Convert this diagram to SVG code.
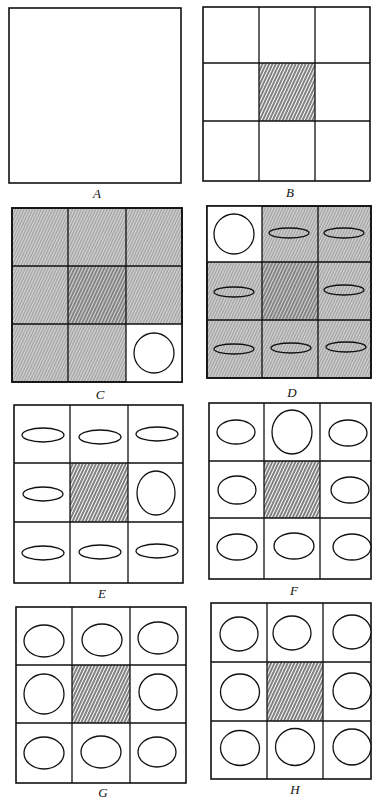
<svg xmlns="http://www.w3.org/2000/svg" width="372" height="800" viewBox="0 0 372 800">
<defs>
<pattern id="hatch" width="3" height="3" patternUnits="userSpaceOnUse" patternTransform="rotate(25)">
<rect width="3" height="3" fill="#fff"/>
<line x1="1" y1="0" x2="1" y2="3" stroke="#222" stroke-width="1.15"/>
</pattern>
<pattern id="grey" width="2.6" height="2.6" patternUnits="userSpaceOnUse" patternTransform="rotate(25)">
<rect width="2.6" height="2.6" fill="#d4d4d4"/>
<line x1="1" y1="0" x2="1" y2="2.6" stroke="#8a8a8a" stroke-width="0.9"/>
</pattern>
<pattern id="dark" width="3" height="3" patternUnits="userSpaceOnUse" patternTransform="rotate(25)">
<rect width="3" height="3" fill="#d6d6d6"/>
<line x1="1" y1="0" x2="1" y2="3" stroke="#333" stroke-width="1"/>
</pattern>
</defs>
<style>
.frame{fill:#fff;stroke:#111;stroke-width:1.6}
.grid{stroke:#111;stroke-width:1.3;fill:none}
.sh{fill:#fff;stroke:#111;stroke-width:1.3}
.lbl{font-family:"Liberation Serif",serif;font-style:italic;font-size:13px;fill:#111;text-anchor:middle}
</style>
<rect width="372" height="800" fill="#fff"/>

<g id="panelA">
<rect class="frame" x="9" y="8" width="172" height="175"/>
<text class="lbl" x="97" y="198">A</text>
</g>

<g id="panelB">
<rect class="frame" x="203" y="7" width="167" height="174"/>
<rect x="259" y="63" width="56" height="58" fill="url(#hatch)"/>
<path class="grid" d="M259 7V181M315 7V181M203 63H370M203 121H370"/>
<text class="lbl" x="290" y="197">B</text>
</g>

<g id="panelC">
<rect class="frame" x="12" y="208" width="170" height="174" style="fill:url(#grey)"/>
<rect x="68" y="266" width="58" height="58" fill="url(#dark)"/>
<rect x="126" y="324" width="56" height="58" fill="#fff"/>
<path class="grid" d="M68 208V382M126 208V382M12 266H182M12 324H182"/>
<rect class="grid" x="12" y="208" width="170" height="174" style="stroke-width:1.6"/>
<circle class="sh" cx="154" cy="353" r="20"/>
<text class="lbl" x="100" y="399">C</text>
</g>

<g id="panelD">
<rect class="frame" x="207" y="206" width="164" height="172" style="fill:url(#grey)"/>
<rect x="262" y="262" width="56" height="58" fill="url(#dark)"/>
<rect x="207" y="206" width="55" height="56" fill="#fff"/>
<path class="grid" d="M262 206V378M318 206V378M207 262H371M207 320H371"/>
<rect class="grid" x="207" y="206" width="164" height="172" style="stroke-width:1.6"/>
<circle class="sh" cx="234" cy="234" r="20"/>
<ellipse class="sh" style="fill:none" cx="289" cy="233" rx="20" ry="5"/>
<ellipse class="sh" style="fill:none" cx="344" cy="233" rx="20" ry="5"/>
<ellipse class="sh" style="fill:none" cx="234" cy="292" rx="20" ry="5"/>
<ellipse class="sh" style="fill:none" cx="344" cy="290" rx="20" ry="5"/>
<ellipse class="sh" style="fill:none" cx="234" cy="349" rx="20" ry="5"/>
<ellipse class="sh" style="fill:none" cx="291" cy="348" rx="20" ry="5"/>
<ellipse class="sh" style="fill:none" cx="346" cy="347" rx="20" ry="5"/>
<text class="lbl" x="292" y="397">D</text>
</g>

<g id="panelE">
<rect class="frame" x="14" y="405" width="169" height="178"/>
<rect x="70" y="463" width="58" height="59" fill="url(#hatch)"/>
<path class="grid" d="M70 405V583M128 405V583M14 463H183M14 522H183"/>
<ellipse class="sh" cx="43" cy="435" rx="21" ry="7"/>
<ellipse class="sh" cx="100" cy="437" rx="21" ry="7"/>
<ellipse class="sh" cx="157" cy="434" rx="21" ry="7"/>
<ellipse class="sh" cx="43" cy="494" rx="20" ry="7"/>
<ellipse class="sh" cx="156" cy="493" rx="19" ry="22"/>
<ellipse class="sh" cx="43" cy="553" rx="21" ry="7"/>
<ellipse class="sh" cx="100" cy="552" rx="21" ry="7"/>
<ellipse class="sh" cx="157" cy="551" rx="21" ry="7"/>
<text class="lbl" x="102" y="598">E</text>
</g>

<g id="panelF">
<rect class="frame" x="209" y="403" width="162" height="176"/>
<rect x="264" y="461" width="56" height="57" fill="url(#hatch)"/>
<path class="grid" d="M264 403V579M320 403V579M209 461H371M209 518H371"/>
<ellipse class="sh" cx="236" cy="432" rx="19" ry="12"/>
<ellipse class="sh" cx="292" cy="432" rx="20" ry="22"/>
<ellipse class="sh" cx="348" cy="433" rx="19" ry="13"/>
<ellipse class="sh" cx="237" cy="490" rx="19" ry="14"/>
<ellipse class="sh" cx="350" cy="490" rx="19" ry="13"/>
<ellipse class="sh" cx="237" cy="547" rx="20" ry="13"/>
<ellipse class="sh" cx="294" cy="546" rx="20" ry="13"/>
<ellipse class="sh" cx="352" cy="547" rx="19" ry="13"/>
<text class="lbl" x="294" y="595">F</text>
</g>

<g id="panelG">
<rect class="frame" x="16" y="607" width="170" height="176"/>
<rect x="72" y="665" width="58" height="58" fill="url(#hatch)"/>
<path class="grid" d="M72 607V783M130 607V783M16 665H186M16 723H186"/>
<ellipse class="sh" cx="44" cy="641" rx="20" ry="16"/>
<ellipse class="sh" cx="102" cy="640" rx="20" ry="16"/>
<ellipse class="sh" cx="158" cy="638" rx="20" ry="16"/>
<ellipse class="sh" cx="44" cy="694" rx="20" ry="20"/>
<ellipse class="sh" cx="158" cy="692" rx="19" ry="18"/>
<ellipse class="sh" cx="44" cy="753" rx="20" ry="16"/>
<ellipse class="sh" cx="101" cy="752" rx="20" ry="16"/>
<ellipse class="sh" cx="157" cy="752" rx="19" ry="15"/>
<text class="lbl" x="103" y="797">G</text>
</g>

<g id="panelH">
<rect class="frame" x="211" y="603" width="160" height="176"/>
<rect x="267" y="662" width="56" height="59" fill="url(#hatch)"/>
<path class="grid" d="M267 603V779M323 603V779M211 662H371M211 721H371"/>
<ellipse class="sh" cx="239" cy="634" rx="19" ry="17"/>
<ellipse class="sh" cx="292" cy="633" rx="19" ry="17"/>
<ellipse class="sh" cx="352" cy="632" rx="19" ry="17"/>
<ellipse class="sh" cx="240" cy="692" rx="19.5" ry="18"/>
<ellipse class="sh" cx="352" cy="691" rx="19" ry="18"/>
<ellipse class="sh" cx="240" cy="748" rx="19.5" ry="17.5"/>
<ellipse class="sh" cx="295" cy="747" rx="19.5" ry="18.5"/>
<ellipse class="sh" cx="352" cy="747" rx="19" ry="18"/>
<text class="lbl" x="295" y="794">H</text>
</g>
</svg>
